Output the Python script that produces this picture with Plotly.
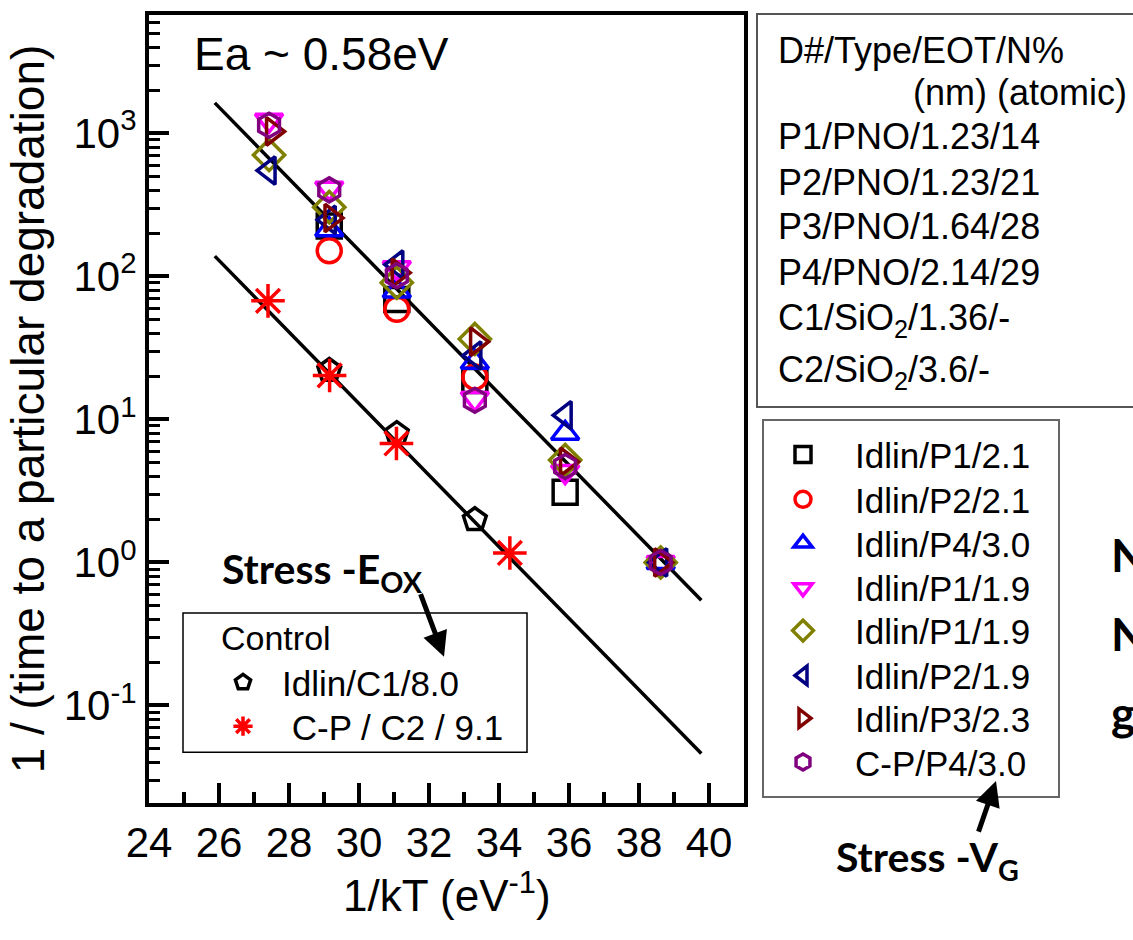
import plotly.graph_objects as go

# ---------------- data ----------------
p1_21_x = [29.15, 31.08, 33.31, 35.89]
p1_21_y = [225, 69, 18.7, 3.1]

p2_21_x = [29.15, 31.08, 33.31]
p2_21_y = [151, 59, 19.8]

p4_30_x = [29.15, 31.08, 33.31, 35.89, 38.62]
p4_30_y = [212, 79, 25.1, 8.0, 1.0]

p1_19a_x = [27.43, 29.15, 31.08, 33.31, 35.89, 38.62]
p1_19a_y = [1238, 414, 115, 14.0, 4.32, 1.0]

p1_19b_x = [27.43, 29.15, 31.08, 33.31, 35.89, 38.62]
p1_19b_y = [706, 305, 90.5, 36.5, 5.2, 1.0]

p2_19_x = [27.43, 29.15, 31.08, 33.31, 35.89, 38.62]
p2_19_y = [550, 249, 121, 28, 10.7, 1.0]

p3_23_x = [27.53, 29.2, 31.12, 33.36, 35.93, 38.62]
p3_23_y = [1033, 256, 106, 35.0, 5.06, 1.0]

cp_p4_x = [27.43, 29.15, 31.08, 33.31, 35.89, 38.62]
cp_p4_y = [1142, 403, 101, 13.6, 4.68, 1.0]

c1_x = [29.15, 31.08, 33.31]
c1_y = [22, 7.96, 1.99]

c2_x = [27.4, 29.16, 31.07, 34.31]
c2_y = [67.5, 20.3, 6.79, 1.165]

fit_x = [25.88, 39.78]
fit_upper_y = [1635, 0.544]
fit_lower_y = [138.7, 0.0461]

x_ticks = [24, 26, 28, 30, 32, 34, 36, 38, 40]
y_tickvals = [0.1, 1, 10, 100, 1000]
y_ticktext = ["10<sup>-1</sup>", "10<sup>0</sup>", "10<sup>1</sup>", "10<sup>2</sup>", "10<sup>3</sup>"]

series = [
    ("Idlin/P1/2.1", p1_21_x, p1_21_y, "square-open", "#000000"),
    ("Idlin/P2/2.1", p2_21_x, p2_21_y, "circle-open", "#FF0000"),
    ("Idlin/P4/3.0", p4_30_x, p4_30_y, "triangle-up-open", "#0000FF"),
    ("Idlin/P1/1.9", p1_19a_x, p1_19a_y, "triangle-down-open", "#FF00FF"),
    ("Idlin/P1/1.9", p1_19b_x, p1_19b_y, "diamond-open", "#808000"),
    ("Idlin/P2/1.9", p2_19_x, p2_19_y, "triangle-left-open", "#000080"),
    ("Idlin/P3/2.3", p3_23_x, p3_23_y, "triangle-right-open", "#800000"),
    ("C-P/P4/3.0", cp_p4_x, cp_p4_y, "hexagon-open", "#800080"),
]
control_series = [
    ("Idlin/C1/8.0", c1_x, c1_y, "pentagon-open", "#000000", 24),
    (" C-P / C2 / 9.1", c2_x, c2_y, "asterisk-open", "#FF0000", 28),
]

# ---------------- layout geometry ----------------
W, H = 1133, 940
L, R, T, B = 149, 744, 11, 803


def px(x):
    return (x - L) / (R - L)


def py(y):
    return (B - y) / (B - T)


FONT = "Liberation Sans, Arial, sans-serif"
BOLD = "Lato, Open Sans, sans-serif"
LEG_FONT = 35

fig = go.Figure()
legends = {}

for yv in (fit_upper_y, fit_lower_y):
    fig.add_trace(go.Scatter(x=fit_x, y=yv, mode="lines",
                             line=dict(color="black", width=3.5),
                             showlegend=False, hoverinfo="skip"))

leg_i = 1
ctrl_rows = [682, 726]
for (name, xs, ys, sym, col, sz), row in zip(control_series, ctrl_rows):
    key = "legend" if leg_i == 1 else f"legend{leg_i}"
    fig.add_trace(go.Scatter(x=xs, y=ys, mode="markers", name=name,
                             marker=dict(symbol=sym, size=sz, color=col,
                                         line=dict(width=3.5, color=col)),
                             legend=key))
    legends[key] = dict(x=px(204), y=py(row), xanchor="left", yanchor="middle",
                        bgcolor="rgba(0,0,0,0)", borderwidth=0, itemwidth=68,
                        font=dict(family=FONT, size=LEG_FONT), itemclick=False)
    leg_i += 1

main_rows = [453, 498, 542, 587, 630, 675, 718, 762]
for (name, xs, ys, sym, col), row in zip(series, main_rows):
    key = f"legend{leg_i}"
    fig.add_trace(go.Scatter(x=xs, y=ys, mode="markers", name=name,
                             marker=dict(symbol=sym, size=24, color=col,
                                         line=dict(width=3.5, color=col)),
                             legend=key))
    legends[key] = dict(x=px(751), y=py(row), xanchor="left", yanchor="middle",
                        bgcolor="rgba(0,0,0,0)", borderwidth=0, itemwidth=94,
                        font=dict(family=FONT, size=LEG_FONT), itemclick=False)
    leg_i += 1

# ---------------- annotations ----------------
ann = []


def text(x, y, s, size=34, family=FONT, anchor="left", color="black"):
    ann.append(dict(x=px(x), y=py(y), xref="paper", yref="paper", text=s,
                    showarrow=False, xanchor=anchor, yanchor="middle",
                    font=dict(family=family, size=size, color=color)))


text(192, 50, "Ea ~ 0.58eV", size=46)

# x-axis title
text(447, 893, "1/kT (eV<sup>-1</sup>)", size=44, anchor="center")

dtexts = ["D#/Type/EOT/N%", "P1/PNO/1.23/14", "P2/PNO/1.23/21", "P3/PNO/1.64/28",
          "P4/PNO/2.14/29", "C1/SiO<sub>2</sub>/1.36/-", "C2/SiO<sub>2</sub>/3.6/-"]
dys = [47, 133, 179, 224, 270, 318, 370]
for s, yy in zip(dtexts, dys):
    text(776, yy, s, size=36)
text(911, 89, "(nm) (atomic)", size=36)

text(220, 570, "<b>Stress -E<sub>OX</sub></b>", size=41, family=BOLD)
text(834, 860, "<b>Stress -V<sub>G</sub></b>", size=41, family=BOLD)
text(219, 637, "Control", size=34)

for yy, s in [(553, "N"), (633, "N"), (712, "g")]:
    text(1109, yy, "<b>" + s + "</b>", size=46, family=BOLD)

# arrows
for (x0, y0, x1, y1) in [(420, 592, 444, 656), (978, 833, 996, 781)]:
    ann.append(dict(x=px(x1), y=py(y1), xref="paper", yref="paper",
                    ax=x0 - x1, ay=y0 - y1, axref="pixel", ayref="pixel",
                    text="", showarrow=True, arrowhead=2, arrowsize=1.0,
                    arrowwidth=5, arrowcolor="black"))

shapes = [
    dict(type="rect", xref="paper", yref="paper", x0=px(757), x1=px(1150),
         y0=py(405), y1=py(10), line=dict(color="#555555", width=2)),
    dict(type="rect", xref="paper", yref="paper", x0=px(763), x1=px(1059),
         y0=py(797), y1=py(418), line=dict(color="#666666", width=2)),
    dict(type="rect", xref="paper", yref="paper", x0=px(183), x1=px(527),
         y0=py(752), y1=py(612), line=dict(color="black", width=1.5),
         fillcolor="white", layer="below"),
]

minor_y = [m * 10 ** e for e in range(-2, 4) for m in range(2, 10)]

fig.update_layout(
    width=W, height=H,
    margin=dict(l=L, r=W - R, t=T, b=H - B, pad=0),
    paper_bgcolor="white", plot_bgcolor="rgba(0,0,0,0)",
    font=dict(family=FONT, color="black"),
    annotations=ann, shapes=shapes,
    xaxis=dict(range=[24, 41], tickvals=x_ticks, ticks="inside", ticklen=20,
               tickwidth=3.5, tickcolor="black", showline=True, linecolor="black",
               linewidth=4, mirror=True, showgrid=False, zeroline=False,
               tickfont=dict(size=42, family=FONT),
               minor=dict(dtick=1, tick0=24, ticks="inside", ticklen=11,
                          tickwidth=3.5, tickcolor="black", showgrid=False)),
    yaxis=dict(type="log", range=[-1.682, 3.828], tickvals=y_tickvals,
               ticktext=y_ticktext, ticks="inside", ticklen=20, tickwidth=3.5,
               tickcolor="black", showline=True, linecolor="black", linewidth=4,
               mirror=True, showgrid=False, zeroline=False,
               tickfont=dict(size=42, family=FONT),
               minor=dict(tickvals=minor_y, ticks="inside", ticklen=11,
                          tickwidth=3, tickcolor="black", showgrid=False),
               title=dict(text="1 / (time to a particular degradation)",
                          font=dict(size=46, family=FONT), standoff=6)),
)
fig.update_layout(**legends)

fig.write_html("out.html")
